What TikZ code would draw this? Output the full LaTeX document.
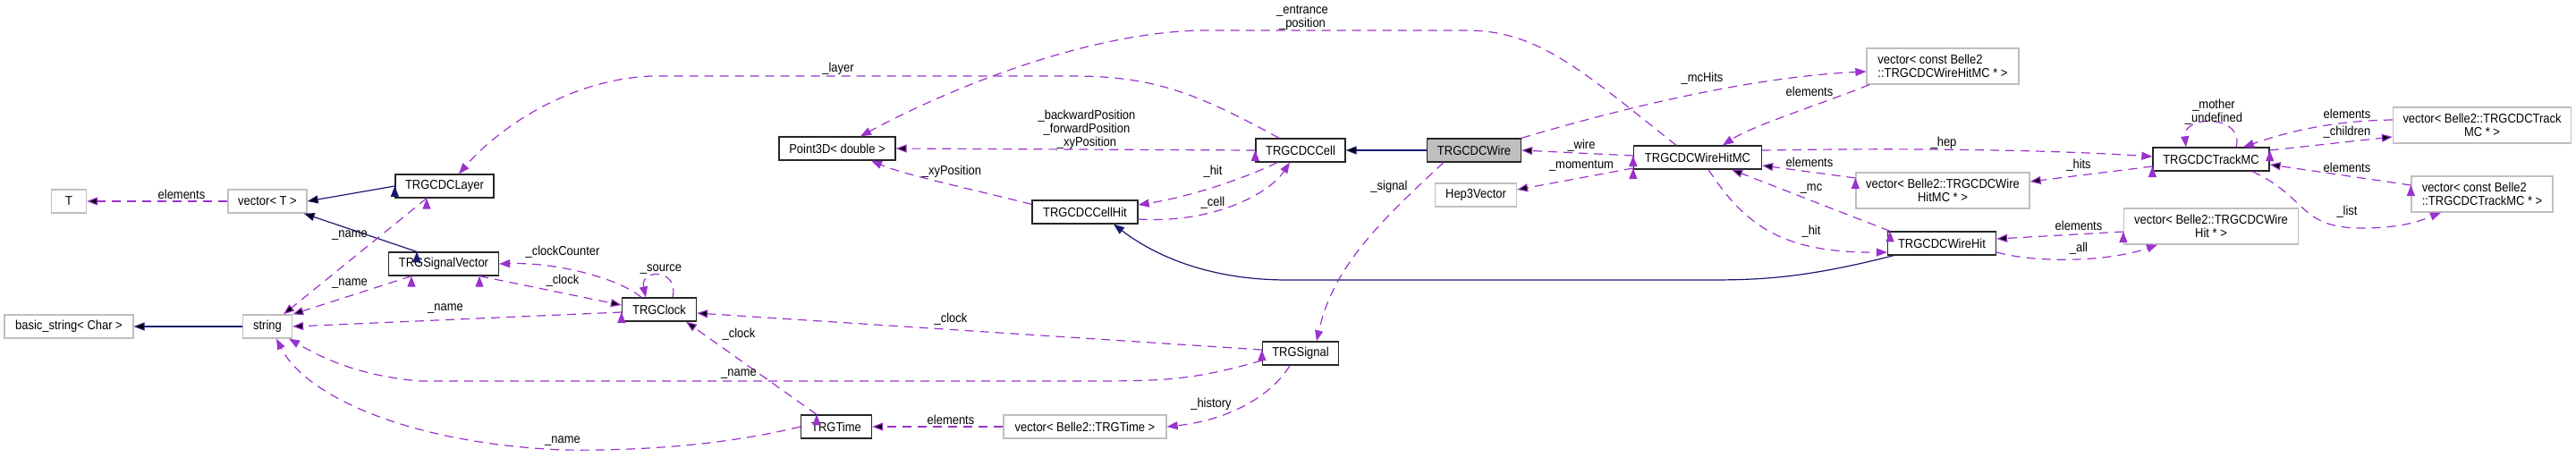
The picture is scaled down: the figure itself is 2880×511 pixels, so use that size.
\documentclass[tikz,border=0pt]{standalone}
\usepackage{fontspec}
\setmainfont{Liberation Sans}[FakeStretch=0.9]
\usetikzlibrary{arrows.meta}
\definecolor{usecol}{HTML}{9A32CD}
\definecolor{inhcol}{HTML}{191970}
\definecolor{extcol}{HTML}{BFBFBF}
\newcommand{\dxfont}{\fontsize{7.2}{7.4}\selectfont}

\begin{document}
\begin{tikzpicture}[x=0.5pt, y=-0.5pt, >={Triangle[length=6pt,width=4.5pt]}]
	\tikzstyle{classnode}=[
	draw=black!85,
	line width=0.65pt,
	fill=white,
	inner sep=0pt,
	minimum height=13pt,
	font=\dxfont,
	align=center
	]
	\tikzstyle{extnode}=[classnode, draw=extcol]
	\tikzstyle{curnode}=[classnode, fill=extcol]
	\tikzstyle{uses}=[->, draw=usecol, line width=0.6pt, dash pattern=on 5pt off 3.5pt]
	\tikzstyle{inherit}=[->, draw=inhcol, line width=0.6pt]
	\tikzstyle{edgelabel}=[font=\dxfont, inner sep=0pt, align=center]
	\useasboundingbox (0,0) rectangle (2880,511);
	% classes
	\node[extnode, minimum width=19.5pt] (T) at (77,225) {T};
	\node[extnode, minimum width=44pt] (vecT) at (299,225) {vector< T >};
	\node[classnode, minimum width=55pt] (Layer) at (497,208) {TRGCDCLayer};
	\node[classnode, minimum width=61.5pt] (SigVec) at (496,295) {TRGSignalVector};
	\node[extnode, minimum width=72pt] (bstr) at (77,365) {basic\_string< Char >};
	\node[extnode, minimum width=27.5pt] (str) at (299,365) {string};
	\node[classnode, minimum width=41.5pt] (Clock) at (737,346) {TRGClock};
	\node[classnode, minimum width=39.5pt] (Time) at (935,477) {TRGTime};
	\node[extnode, minimum width=91pt] (vecTime) at (1213,477) {vector< Belle2::TRGTime >};
	\node[classnode, minimum width=42.5pt] (Signal) at (1454,395) {TRGSignal};
	\node[classnode, minimum width=65pt] (Point3D) at (936,166) {Point3D< double >};
	\node[classnode, minimum width=59pt] (CellHit) at (1213,237) {TRGCDCCellHit};
	\node[classnode, minimum width=50pt] (Cell) at (1454,168) {TRGCDCCell};
	\node[curnode, minimum width=52.5pt] (Wire) at (1648,168) {TRGCDCWire};
	\node[classnode, minimum width=71.5pt] (WireHitMC) at (1898,176) {TRGCDCWireHitMC};
	\node[extnode, minimum width=45.5pt] (Hep) at (1650,218) {Hep3Vector};
	\node[extnode, minimum width=85pt, minimum height=20pt, align=left] (vecCWHMC) at (2172,74) {vector< const Belle2\\::TRGCDCWireHitMC * >};
	\node[extnode, minimum width=97pt, minimum height=20pt] (vecWHMC) at (2172,213) {vector< Belle2::TRGCDCWire\\HitMC * >};
	\node[classnode, minimum width=60.5pt] (WireHit) at (2171,272) {TRGCDCWireHit};
	\node[classnode, minimum width=65pt] (TrackMC) at (2472,178) {TRGCDCTrackMC};
	\node[extnode, minimum width=99.5pt, minimum height=20pt] (vecTrack) at (2775,140) {vector< Belle2::TRGCDCTrack\\MC * >};
	\node[extnode, minimum width=79pt, minimum height=20pt, align=left] (vecCTrack) at (2775,217) {vector< const Belle2\\::TRGCDCTrackMC * >};
	\node[extnode, minimum width=97.5pt, minimum height=20pt] (vecWH) at (2472,253) {vector< Belle2::TRGCDCWire\\Hit * >};
	% inheritance
	\path [inherit] (Layer.west) edge (vecT.east);
	\path [inherit] ([xshift=-15pt]SigVec.north) edge ([xshift=-2pt]vecT.south east);
	\path [inherit] (str) edge (bstr);
	\path [inherit] (Wire) edge (Cell);
	\draw [inherit] ([xshift=-27pt]WireHit.south) .. controls (2010,313) and (1960,313) .. (1900,313) -- (1440,313) .. controls (1350,313) and (1290,285) .. ([xshift=16pt]CellHit.south);
	% members
	\path [uses] (vecT) edge (T);
	\path [uses] ([xshift=-10pt]Layer.south) edge ([xshift=9pt]str.north);
	\path [uses] ([xshift=-18pt]SigVec.south) edge (str.north east);
	\path [uses] ([yshift=-1.5pt]Clock.west) edge (str.east);
	\draw [uses] ([yshift=-4pt]Signal.west) .. controls (1330,426) and (1300,426) .. (1205,426) -- (470,426) .. controls (400,420) and (360,400) .. ([xshift=12pt]str.south);
	\draw [uses] (Time.west) .. controls (800,500) and (700,504) .. (629,503) .. controls (450,495) and (340,440) .. ([xshift=5pt]str.south);
	\draw [uses] ([xshift=-10pt]Clock.north) .. controls (690,310) and (620,293) .. (SigVec.east);
	\path [uses] ([xshift=20pt]SigVec.south) edge ([yshift=2.5pt]Clock.west);
	\draw [uses] ([xshift=7.5pt]Clock.north) .. controls (760,300) and (715,300) .. ([xshift=-7.5pt]Clock.north);
	\path [uses] ([yshift=2pt]Signal.west) edge ([yshift=-2pt]Clock.east);
	\path [uses] ([xshift=-11pt]Time.north) edge ([xshift=15pt]Clock.south);
	\path [uses] (vecTime) edge (Time);
	\draw [uses] ([xshift=-6pt]Signal.south) .. controls (1420,445) and (1370,470) .. (vecTime.east);
	\draw [uses] ([xshift=-12pt]Cell.north) .. controls (1340,105) and (1290,85) .. (1200,85) -- (730,85) .. controls (640,88) and (560,140) .. ([xshift=8pt]Layer.north);
	\path [uses] (Cell.west) edge (Point3D.east);
	\draw [uses] ([yshift=-2.5pt]CellHit.north west) .. controls (1080,210) and (1010,195) .. ([xshift=19pt]Point3D.south);
	\draw [uses] ([xshift=-13pt]Cell.south) .. controls (1390,200) and (1330,220) .. ([yshift=4pt]CellHit.east);
	\draw [uses] ([yshift=-4pt]CellHit.east) .. controls (1360,250) and (1420,215) .. ([xshift=-6pt]Cell.south);
	\draw [uses] ([xshift=-12pt]WireHitMC.north) .. controls (1770,80) and (1720,34) .. (1640,34) -- (1340,34) .. controls (1200,38) and (1040,110) .. ([xshift=13pt]Point3D.north);
	\path [uses] ([yshift=1pt]WireHitMC.west) edge (Wire.east);
	\path [uses] ([yshift=-6pt]WireHitMC.west) edge ([yshift=3pt]Hep.east);
	\draw [uses] (Wire.north east) .. controls (1850,110) and (1980,85) .. ([yshift=-3pt]vecCWHMC.west);
	\draw [uses] ([xshift=-41pt]vecCWHMC.south) .. controls (2040,115) and (1960,140) .. ([xshift=14pt]WireHitMC.north);
	\draw [uses] ([xshift=-17pt]Wire.south) .. controls (1540,250) and (1490,300) .. ([xshift=9pt]Signal.north);
	\draw [uses] ([yshift=4pt]WireHitMC.east) .. controls (2150,165) and (2300,168) .. ([yshift=1.5pt]TrackMC.west);
	\path [uses] ([yshift=7pt]vecWHMC.west) edge ([yshift=-4.5pt]WireHitMC.east);
	\path [uses] ([xshift=-29pt]WireHit.north) edge ([xshift=19pt]WireHitMC.south);
	\draw [uses] ([xshift=6pt]WireHitMC.south) .. controls (1950,250) and (1990,283) .. ([yshift=-5pt]WireHit.west);
	\path [uses] ([yshift=-4pt]TrackMC.west) edge ([yshift=5pt]vecWHMC.east);
	\path [uses] ([yshift=-3pt]vecWH.west) edge ([yshift=2.5pt]WireHit.east);
	\draw [uses] ([yshift=-5pt]WireHit.east) .. controls (2280,295) and (2360,292) .. ([xshift=-30pt]vecWH.south);
	\draw [uses] ([xshift=14pt]TrackMC.north) .. controls (2510,128) and (2440,128) .. ([xshift=-14pt]TrackMC.north);
	\draw [uses] ([yshift=3pt]vecTrack.west) .. controls (2600,135) and (2550,150) .. ([xshift=18pt]TrackMC.north);
	\path [uses] ([yshift=5pt]TrackMC.east) edge ([yshift=-6.5pt]vecTrack.west);
	\path [uses] ([yshift=5pt]vecCTrack.west) edge ([yshift=-3pt]TrackMC.east);
	\draw [uses] ([xshift=23pt]TrackMC.south) .. controls (2580,220) and (2570,255) .. (2640,255) .. controls (2690,255) and (2710,245) .. ([xshift=-23pt]vecCTrack.south);
	% member names
	\node[edgelabel] (lElemT) at (203,217) {elements};
	\node[edgelabel] (lNameLayer) at (391,263) {\_name};
	\node[edgelabel] (lNameSigVec) at (391,317) {\_name};
	\node[edgelabel] (lClockCounter) at (629,282) {\_clockCounter};
	\node[edgelabel] (lClockSigVec) at (629,314) {\_clock};
	\node[edgelabel] (lNameClock) at (498,345) {\_name};
	\node[edgelabel] (lNameSignal) at (826,418) {\_name};
	\node[edgelabel] (lNameTime) at (629,493) {\_name};
	\node[edgelabel] (lSource) at (739,301) {\_source};
	\node[edgelabel] (lClockSignal) at (1063,357) {\_clock};
	\node[edgelabel] (lClockTime) at (826,374) {\_clock};
	\node[edgelabel] (lHistory) at (1354,452) {\_history};
	\node[edgelabel] (lElemTime) at (1063,469) {elements};
	\node[edgelabel] (lLayer) at (937,77) {\_layer};
	\node[edgelabel] (lPositions) at (1215,145) {\_backwardPosition\\\_forwardPosition\\\_xyPosition};
	\node[edgelabel] (lXyPosition) at (1064,192) {\_xyPosition};
	\node[edgelabel] (lHitCell) at (1356,192) {\_hit};
	\node[edgelabel] (lCell) at (1356,227) {\_cell};
	\node[edgelabel] (lEntrance) at (1456,20) {\_entrance\\\_position};
	\node[edgelabel] (lMcHits) at (1903,88) {\_mcHits};
	\node[edgelabel] (lElemCWHMC) at (2023,102) {elements};
	\node[edgelabel] (lWire) at (1768,163) {\_wire};
	\node[edgelabel] (lMomentum) at (1768,185) {\_momentum};
	\node[edgelabel] (lElemWHMC) at (2023,181) {elements};
	\node[edgelabel] (lMc) at (2025,211) {\_mc};
	\node[edgelabel] (lHitWire) at (2025,259) {\_hit};
	\node[edgelabel] (lSignal) at (1553,209) {\_signal};
	\node[edgelabel] (lHep) at (2173,160) {\_hep};
	\node[edgelabel] (lHits) at (2324,185) {\_hits};
	\node[edgelabel] (lElemWH) at (2324,252) {elements};
	\node[edgelabel] (lAll) at (2324,278) {\_all};
	\node[edgelabel] (lMother) at (2475,125) {\_mother\\\_undefined};
	\node[edgelabel] (lElemTrack) at (2624,127) {elements};
	\node[edgelabel] (lChildren) at (2624,148) {\_children};
	\node[edgelabel] (lElemCTrack) at (2624,187) {elements};
	\node[edgelabel] (lList) at (2624,237) {\_list};
\end{tikzpicture}
\end{document}
